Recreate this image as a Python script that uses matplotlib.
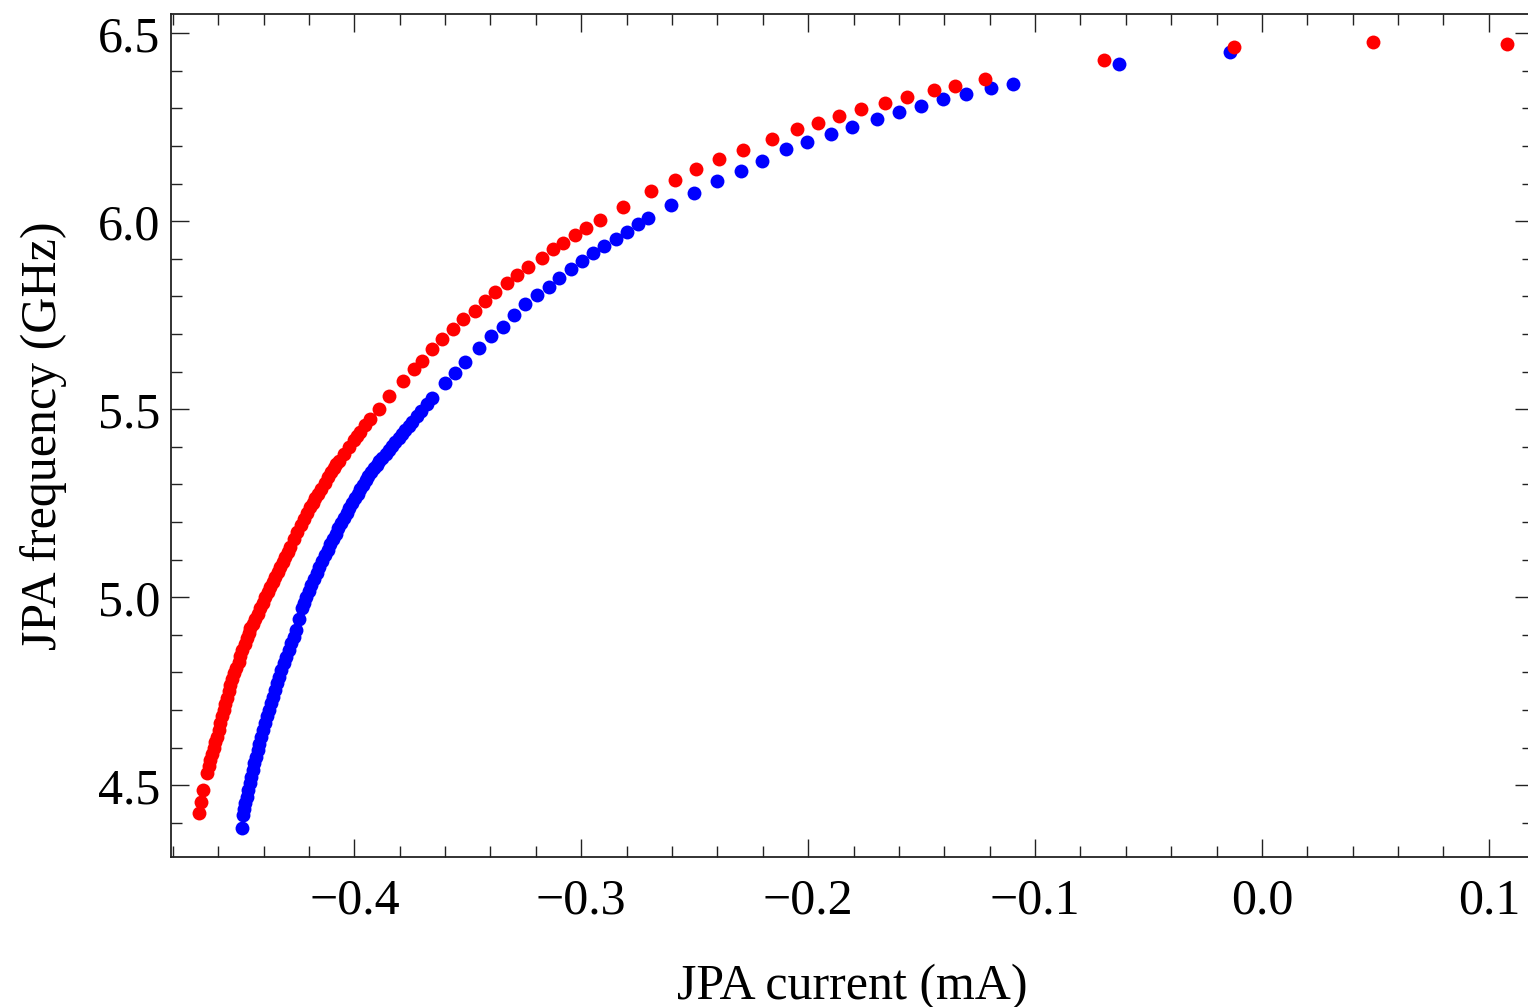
import matplotlib.pyplot as plt
from matplotlib.ticker import MultipleLocator

# JPA tuning curves: frequency vs flux-bias current, two sweeps
red_current = [-0.4686, -0.4675, -0.4667, -0.4649, -0.4642, -0.4634, -0.4627, -0.4620,
               -0.4612, -0.4605, -0.4597, -0.4590, -0.4583, -0.4576, -0.4568, -0.4561,
               -0.4553, -0.4546, -0.4539, -0.4532, -0.4521, -0.4510, -0.4502, -0.4495,
               -0.4484, -0.4473, -0.4466, -0.4458, -0.4447, -0.4436, -0.4425, -0.4414,
               -0.4403, -0.4392, -0.4381, -0.4370, -0.4359, -0.4348, -0.4337, -0.4326,
               -0.4315, -0.4304, -0.4294, -0.4285, -0.4268, -0.4252, -0.4237, -0.4223,
               -0.4208, -0.4194, -0.4183, -0.4172, -0.4160, -0.4147, -0.4131, -0.4116,
               -0.4103, -0.4091, -0.4080, -0.4069, -0.4047, -0.4025, -0.4003, -0.3988,
               -0.3974, -0.3952, -0.3930, -0.3893, -0.3849, -0.3785,
               -0.3739, -0.3702, -0.3658, -0.3614, -0.3565, -0.3519, -0.3470, -0.3423,
               -0.3379, -0.3327, -0.3283, -0.3235, -0.3173, -0.3126, -0.3081, -0.3026,
               -0.2978, -0.2919, -0.2816, -0.2692, -0.2586, -0.2493, -0.2391, -0.2288,
               -0.2160, -0.2050, -0.1957, -0.1863, -0.1768, -0.1661, -0.1565, -0.1444,
               -0.1352, -0.1220, -0.0695, -0.0122, 0.0491, 0.1078]
red_freq = [4.4255, 4.4564, 4.4875, 4.5319, 4.5500, 4.5673, 4.5830, 4.5984,
            4.6140, 4.6293, 4.6470, 4.6649, 4.6830, 4.7003, 4.7160, 4.7314,
            4.7500, 4.7668, 4.7820, 4.7979, 4.8130, 4.8287, 4.8440, 4.8598,
            4.8750, 4.8910, 4.9040, 4.9176, 4.9290, 4.9415, 4.9560, 4.9707,
            4.9860, 5.0016, 5.0150, 5.0282, 5.0410, 5.0548, 5.0680, 5.0814,
            5.0940, 5.1080, 5.1210, 5.1346, 5.1550, 5.1745, 5.1915, 5.2072,
            5.2238, 5.2391, 5.2510, 5.2627, 5.2753, 5.2888, 5.3051, 5.3198,
            5.3322, 5.3433, 5.3532, 5.3628, 5.3815, 5.3996, 5.4172, 5.4290,
            5.4400, 5.4571, 5.4740, 5.5020, 5.5350, 5.5761,
            5.6064, 5.6293, 5.6596, 5.6862, 5.7128, 5.7394, 5.7622, 5.7888,
            5.8112, 5.8367, 5.8572, 5.8777, 5.9032, 5.9255, 5.9431, 5.9636,
            5.9814, 6.0035, 6.0388, 6.0806, 6.1098, 6.1383, 6.1649, 6.1896,
            6.2189, 6.2447, 6.2622, 6.2801, 6.2979, 6.3154, 6.3314, 6.3492,
            6.3606, 6.3777, 6.4290, 6.4644, 6.4769, 6.4707]

blue_current = [-0.4495, -0.4490, -0.4485, -0.4480, -0.4474, -0.4468, -0.4461, -0.4455,
                -0.4448, -0.4441, -0.4433, -0.4426, -0.4418, -0.4410, -0.4402, -0.4395,
                -0.4386, -0.4378, -0.4369, -0.4360, -0.4350, -0.4341, -0.4331, -0.4322,
                -0.4311, -0.4301, -0.4290, -0.4279, -0.4267, -0.4258, -0.4243, -0.4230,
                -0.4221, -0.4212, -0.4201, -0.4190, -0.4178, -0.4166, -0.4154, -0.4142,
                -0.4130, -0.4118, -0.4106, -0.4094, -0.4082, -0.4070, -0.4058, -0.4046,
                -0.4034, -0.4022, -0.4010, -0.3998, -0.3986, -0.3974, -0.3962, -0.3950,
                -0.3938, -0.3926, -0.3914, -0.3902, -0.3890, -0.3876, -0.3862, -0.3848,
                -0.3834, -0.3820, -0.3805, -0.3790, -0.3775, -0.3760, -0.3746, -0.3725,
                -0.3705, -0.3680, -0.3658, -0.3599, -0.3555, -0.3511,
                -0.3449, -0.3396, -0.3345, -0.3298, -0.3247, -0.3193, -0.3144,
                -0.3096, -0.3044, -0.2997, -0.2946, -0.2899, -0.2846, -0.2799, -0.2750,
                -0.2704, -0.2605, -0.2505, -0.2402, -0.2295, -0.2204, -0.2097, -0.2006,
                -0.1899, -0.1808, -0.1697, -0.1599, -0.1504, -0.1404, -0.1304, -0.1195,
                -0.1096, -0.0628, -0.0143]
blue_freq = [4.3856, 4.4210, 4.4370, 4.4521, 4.4700, 4.4875, 4.5050, 4.5229,
             4.5410, 4.5585, 4.5760, 4.5939, 4.6110, 4.6293, 4.6470, 4.6649,
             4.6830, 4.7003, 4.7180, 4.7356, 4.7540, 4.7713, 4.7890, 4.8066,
             4.8250, 4.8420, 4.8600, 4.8777, 4.8950, 4.9130, 4.9420, 4.9707,
             4.9860, 5.0016, 5.0176, 5.0330, 5.0493, 5.0652, 5.0808, 5.0962,
             5.1113, 5.1262, 5.1408, 5.1552, 5.1694, 5.1834, 5.1972, 5.2108,
             5.2241, 5.2372, 5.2501, 5.2628, 5.2753, 5.2876, 5.2997, 5.3110,
             5.3220, 5.3325, 5.3425, 5.3520, 5.3612, 5.3716, 5.3818, 5.3920,
             5.4022, 5.4125, 5.4235, 5.4345, 5.4455, 5.4565, 5.4668, 5.4820,
             5.4965, 5.5140, 5.5293, 5.5691, 5.5973, 5.6266,
             5.6630, 5.6957, 5.7197, 5.7500, 5.7793, 5.8040, 5.8261,
             5.8484, 5.8723, 5.8952, 5.9165, 5.9343, 5.9537, 5.9723, 5.9920,
             6.0096, 6.0426, 6.0761, 6.1072, 6.1338, 6.1612, 6.1915, 6.2101,
             6.2330, 6.2508, 6.2721, 6.2907, 6.3074, 6.3245, 6.3386, 6.3537,
             6.3652, 6.4184, 6.4511]

plt.rcParams['font.family'] = ['Liberation Serif', 'DejaVu Serif']

fig = plt.figure(figsize=(15.28, 10.07), dpi=100)
ax = fig.add_axes([0.1122, 0.1487, 0.8910, 0.8371])

ax.plot(blue_current, blue_freq, 'o', color='#0000ff', markersize=10, markeredgewidth=0)
ax.plot(red_current, red_freq, 'o', color='#ff0000', markersize=10, markeredgewidth=0)

ax.set_xlim(-0.4806, 0.1194)
ax.set_ylim(4.3085, 6.5505)

ax.xaxis.set_major_locator(MultipleLocator(0.1))
ax.xaxis.set_minor_locator(MultipleLocator(0.02))
ax.yaxis.set_major_locator(MultipleLocator(0.5))
ax.yaxis.set_minor_locator(MultipleLocator(0.1))
ax.xaxis.set_major_formatter(plt.FuncFormatter(lambda v, p: f'{v:.1f}'.replace('-', '\u2212')))
ax.yaxis.set_major_formatter(plt.FuncFormatter(lambda v, p: f'{v:.1f}'))

ax.tick_params(which='both', direction='in', top=True, right=True, width=1.0, color='#222222')
ax.tick_params(which='major', length=13)
ax.tick_params(which='minor', length=8)
ax.tick_params(axis='x', which='major', pad=15, labelsize=36)
ax.tick_params(axis='y', which='major', pad=8, labelsize=36)
for s in ax.spines.values():
    s.set_linewidth(1.3)
    s.set_color('#222222')

ax.set_xlabel('JPA current (mA)', fontsize=36, labelpad=28)
ax.set_ylabel('JPA frequency (GHz)', fontsize=36, labelpad=22)

fig.savefig('out.png', dpi=100)
